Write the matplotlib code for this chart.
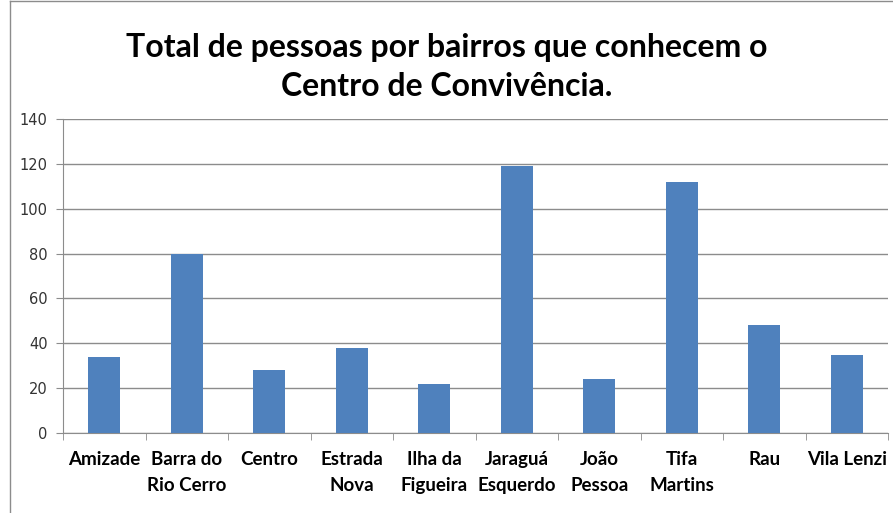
import matplotlib
matplotlib.use("Agg")
import matplotlib.pyplot as plt
from matplotlib.lines import Line2D
import numpy as np

categories = ["Amizade", "Barra do\nRio Cerro", "Centro", "Estrada\nNova", "Ilha da\nFigueira",
              "Jaraguá\nEsquerdo", "João\nPessoa", "Tifa\nMartins", "Rau", "Vila Lenzi"]
values = [34, 80, 28, 38, 22, 119, 24, 112, 48, 35]
yticks = [0, 20, 40, 60, 80, 100, 120, 140]
title = "Total de pessoas por bairros que conhecem o\nCentro de Convivência."

W, H = 893, 513
fig = plt.figure(figsize=(W/100, H/100), dpi=100)
ax = fig.add_axes([63/W, 1-433/H, (888-63)/W, (433-119)/H])

x = np.arange(len(categories))
ax.bar(x, values, width=0.39, color="#4F81BD", zorder=3)
ax.set_xlim(-0.5, len(categories)-0.5)
ax.set_ylim(0, 140)
ax.set_yticks(yticks)
ax.set_yticklabels([str(t) for t in yticks], fontsize=10.5, color="#333333", family="DejaVu Sans")
ax.grid(axis="y", color="#8c8c8c", linewidth=1, zorder=0)
ax.set_xticks(x)
ax.set_xticklabels(categories, fontsize=13.5, fontweight="bold", family="Lato", linespacing=1.65)
ax.tick_params(axis="x", length=0, pad=13)
ax.set_xticks(np.arange(-0.5, len(categories)), minor=True)
ax.tick_params(axis="x", which="minor", length=5, color="#8c8c8c", direction="out")
ax.tick_params(axis="y", length=5, color="#8c8c8c", direction="out", pad=6)
for s in ["top", "right"]:
    ax.spines[s].set_visible(False)
ax.spines["left"].set_color("#8c8c8c")
ax.spines["bottom"].set_color("#8c8c8c")

fig.text(0.5, 1-67/H, title, ha="center", va="center", fontsize=23, fontweight="bold",
         family="Lato", linespacing=1.42)

# frame border of the chart area
fig.add_artist(Line2D([10/W, 10/W], [0, 1-1/H], color="#8c8c8c", lw=1, transform=fig.transFigure))
fig.add_artist(Line2D([10/W, 1], [1-1/H, 1-1/H], color="#8c8c8c", lw=1, transform=fig.transFigure))

fig.savefig("out.png", dpi=100)
